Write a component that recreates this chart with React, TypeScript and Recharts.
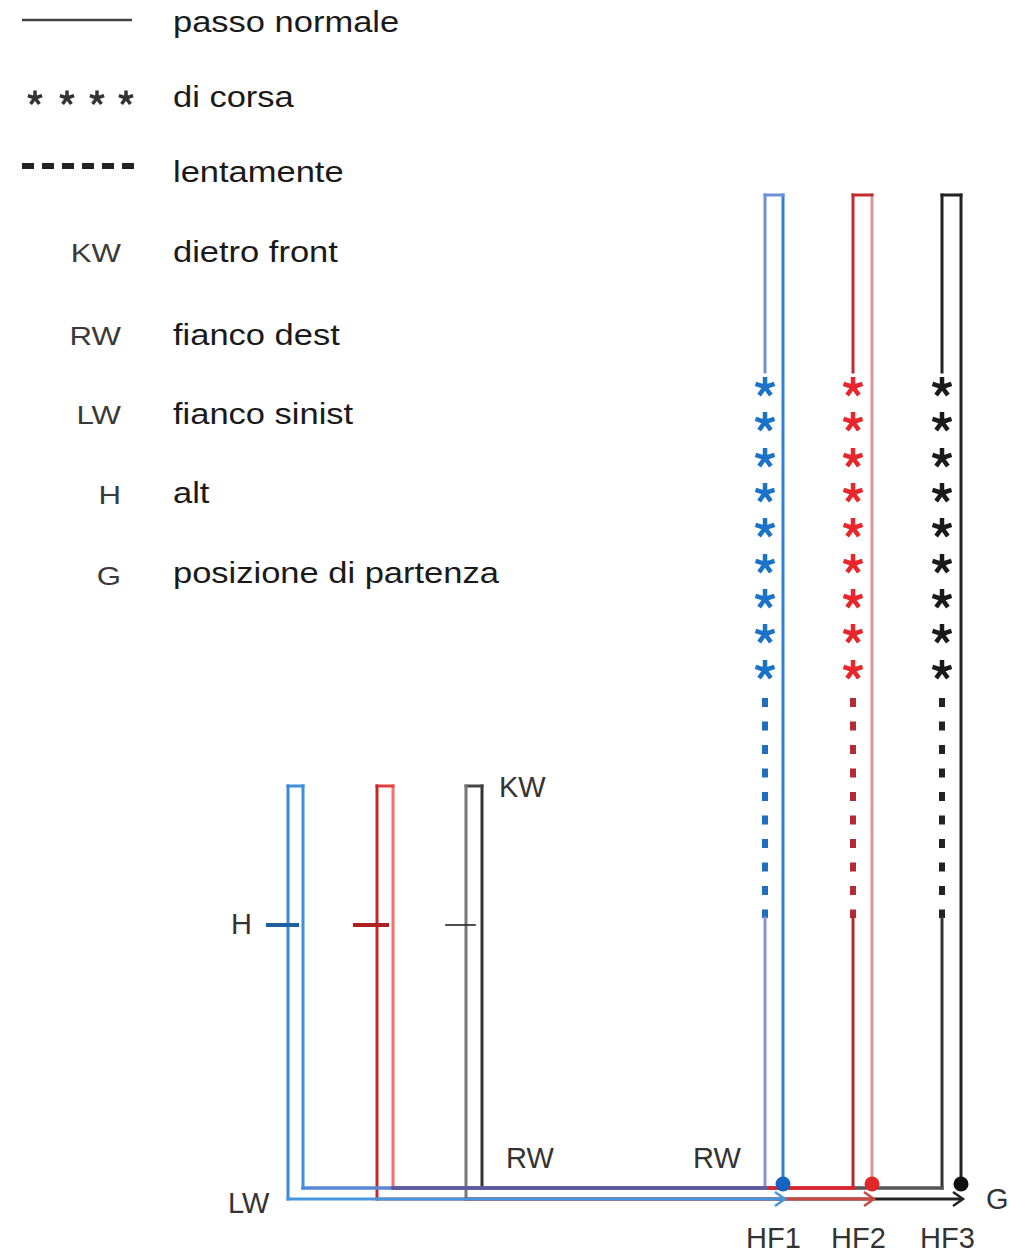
import React from "react";
import { ComposedChart, Line, Scatter, XAxis, YAxis } from "recharts";

const W = 1010;
const H = 1253;
const FONT = "'Liberation Sans', Arial, Helvetica, sans-serif";

// legend
const legendTexts = [
  "passo normale",
  "di corsa",
  "lentamente",
  "dietro front",
  "fianco dest",
  "fianco sinist",
  "alt",
  "posizione di partenza",
];
const legendTextY = [32, 107, 182, 262, 345, 424, 503, 583];
const legendCodes = ["KW", "RW", "LW", "H", "G"];
const legendCodeY = [262, 345, 424, 504, 585];
const legendSolidX = [22, 132];
const legendSolidY = 20;
const legendStarX = [35, 67, 97, 126];
const legendStarY = 98;
const legendDashX = [22, 135];
const legendDashY = 166;

// the three routes (HF1 blue, HF2 red, HF3 black)
const leftOuterX = [288, 377, 466];
const leftInnerX = [303, 393, 482];
const rightInnerX = [765, 853, 942];
const rightOuterX = [783, 872, 961];
const haltTickX = [
  [268, 297],
  [355, 387],
  [446, 475],
];
const runY = [387, 422, 458, 493, 528, 564, 599, 634, 670];
const rightTopY = 195;
const leftTopY = 786;
const walkEndY = 372;
const slowTopY = 698;
const slowEndY = 918;
const innerBaseY = 1188;
const outerBaseY = 1199;
const haltY = 925;
const startY = 1184;
const overlapX = [393, 765];

const diagramLabels = ["KW", "H", "LW", "RW", "RW", "HF1", "HF2", "HF3", "G"];
const diagramLabelX = [499, 231, 228, 506, 693, 746, 831, 920, 986];
const diagramLabelY = [797, 934, 1213, 1168, 1168, 1248, 1248, 1248, 1209];

const palettes = [
  {
    outerRight: "#2f80d8",
    innerRight: "#6f8fd6",
    star: "#1a73c8",
    slow: "#1f6fc0",
    lower: "#8a90d4",
    innerBase: "#5a86d4",
    leftInner: "#3d8fe0",
    leftTop: "#3d8fe0",
    leftOuter: "#3a8ad8",
    outerBase: "#4596dc",
    dot: "#1565c0",
    halt: "#1f5fa0",
    haltW: 4,
  },
  {
    outerRight: "#d49a9a",
    innerRight: "#c22a30",
    star: "#e8262c",
    slow: "#b52a35",
    lower: "#b02a30",
    innerBase: "#e0202a",
    leftInner: "#ff6a6a",
    leftTop: "#e04040",
    leftOuter: "#c0282e",
    outerBase: "#c84a40",
    dot: "#e02828",
    halt: "#b02020",
    haltW: 4,
  },
  {
    outerRight: "#222222",
    innerRight: "#222222",
    star: "#1a1a1a",
    slow: "#222222",
    lower: "#333333",
    innerBase: "#555555",
    leftInner: "#333333",
    leftTop: "#444444",
    leftOuter: "#777777",
    outerBase: "#222222",
    dot: "#111111",
    halt: "#222222",
    haltW: 1.6,
  },
];

const pts = (arr: number[][]) => arr.map(([x, y]) => ({ x, y }));

type Seg = { key: string; data: { x: number; y: number }[]; color: string; width: number; dash?: string };

function buildSegments(): Seg[] {
  const segs: Seg[] = [];
  // draw black first, blue last
  [2, 1, 0].forEach((i) => {
    const p = palettes[i];
    const lo = leftOuterX[i];
    const li = leftInnerX[i];
    const ri = rightInnerX[i];
    const ro = rightOuterX[i];
    segs.push({ key: `or${i}`, data: pts([[ro, startY], [ro, rightTopY]]), color: p.outerRight, width: 3 });
    segs.push({ key: `rt${i}`, data: pts([[ro, rightTopY], [ri, rightTopY]]), color: p.innerRight, width: 3 });
    segs.push({ key: `ir${i}`, data: pts([[ri, rightTopY], [ri, walkEndY]]), color: p.innerRight, width: 3 });
    segs.push({ key: `sl${i}`, data: pts([[ri, slowTopY], [ri, slowEndY]]), color: p.slow, width: 6, dash: "9 14.5" });
    segs.push({ key: `lw${i}`, data: pts([[ri, slowEndY], [ri, innerBaseY]]), color: p.lower, width: 3 });
    segs.push({ key: `ib${i}`, data: pts([[ri, innerBaseY], [li, innerBaseY]]), color: p.innerBase, width: 3.5 });
    segs.push({ key: `li${i}`, data: pts([[li, innerBaseY], [li, leftTopY]]), color: p.leftInner, width: 3 });
    segs.push({ key: `lt${i}`, data: pts([[li, leftTopY], [lo, leftTopY]]), color: p.leftTop, width: 3 });
    segs.push({ key: `lo${i}`, data: pts([[lo, leftTopY], [lo, outerBaseY]]), color: p.leftOuter, width: 3 });
    segs.push({ key: `ob${i}`, data: pts([[lo, outerBaseY], [ro, outerBaseY]]), color: p.outerBase, width: 3 });
    segs.push({
      key: `h${i}`,
      data: pts([[haltTickX[i][0], haltY], [haltTickX[i][1], haltY]]),
      color: p.halt,
      width: p.haltW,
    });
  });
  segs.push({
    key: "overlap",
    data: pts([[overlapX[0], innerBaseY], [overlapX[1], innerBaseY]]),
    color: "#5a5a9c",
    width: 3.5,
  });
  return segs;
}

function Asterisk(props: any) {
  const { cx, cy, fill } = props;
  const r = props.arm ?? 10;
  const sw = props.sw ?? 4.5;
  const d = [-90, -18, 54, 126, 198]
    .map((a) => {
      const t = (a * Math.PI) / 180;
      return `M${cx},${cy}L${cx + r * Math.cos(t)},${cy + r * Math.sin(t)}`;
    })
    .join("");
  return <path d={d} stroke={fill} strokeWidth={sw} strokeLinecap="butt" fill="none" />;
}

function Dot(props: any) {
  const { cx, cy, fill } = props;
  return <circle cx={cx} cy={cy} r={7.5} fill={fill} />;
}

function Arrow(props: any) {
  const { cx, cy, fill } = props;
  return (
    <path
      d={`M${cx - 10},${cy - 7}L${cx},${cy}L${cx - 10},${cy + 7}`}
      stroke={fill}
      strokeWidth={2.5}
      fill="none"
    />
  );
}

function makeText(size: number, anchor: string, sx: number, color: string) {
  return (props: any) => {
    const { cx, cy, payload } = props;
    return (
      <g transform={`translate(${cx},${cy}) scale(${sx},1)`}>
        <text x={0} y={0} textAnchor={anchor} fontSize={size} fontFamily={FONT} fill={color}>
          {payload.text}
        </text>
      </g>
    );
  };
}

const LegendText = makeText(30, "start", 1.15, "#1a1a1a");
const LegendCode = makeText(26, "end", 1.2, "#3a3a3a");
const DiagramText = makeText(29, "start", 1, "#333333");

export default function App() {
  const segments = buildSegments();
  const legendTextData = legendTexts.map((text, i) => ({ x: 173, y: legendTextY[i], text }));
  const legendCodeData = legendCodes.map((text, i) => ({ x: 121, y: legendCodeY[i], text }));
  const diagramData = diagramLabels.map((text, i) => ({ x: diagramLabelX[i], y: diagramLabelY[i], text }));

  return (
    <div style={{ position: "absolute", left: 0, top: 0, width: W, height: H, background: "#fff" }}>
      <ComposedChart width={W} height={H} margin={{ top: 0, right: 0, bottom: 0, left: 0 }}>
        <XAxis type="number" dataKey="x" domain={[0, W]} allowDataOverflow hide />
        <YAxis type="number" dataKey="y" domain={[0, H]} allowDataOverflow reversed hide />

        {/* legend samples */}
        <Line
          data={pts([[legendSolidX[0], legendSolidY], [legendSolidX[1], legendSolidY]])}
          dataKey="y"
          type="linear"
          stroke="#444"
          strokeWidth={2.5}
          dot={false}
          activeDot={false}
          isAnimationActive={false}
        />
        <Line
          data={pts([[legendDashX[0], legendDashY], [legendDashX[1], legendDashY]])}
          dataKey="y"
          type="linear"
          stroke="#222"
          strokeWidth={6}
          strokeDasharray="12 8"
          dot={false}
          activeDot={false}
          isAnimationActive={false}
        />
        <Scatter
          data={legendStarX.map((x) => ({ x, y: legendStarY }))}
          dataKey="y"
          fill="#333"
          shape={(p: any) => <Asterisk {...p} arm={7.5} sw={3.5} />}
          isAnimationActive={false}
        />

        {/* route segments */}
        {segments.map((s) => (
          <Line
            key={s.key}
            data={s.data}
            dataKey="y"
            type="linear"
            stroke={s.color}
            strokeWidth={s.width}
            strokeDasharray={s.dash}
            strokeLinecap={s.dash ? "butt" : "square"}
            dot={false}
            activeDot={false}
            isAnimationActive={false}
          />
        ))}

        {/* running stars, start dots, arrows */}
        {[0, 1, 2].map((i) => (
          <Scatter
            key={`stars${i}`}
            data={runY.map((y) => ({ x: rightInnerX[i], y }))}
            dataKey="y"
            fill={palettes[i].star}
            shape={(p: any) => <Asterisk {...p} />}
            isAnimationActive={false}
          />
        ))}
        {[0, 1, 2].map((i) => (
          <Scatter
            key={`dot${i}`}
            data={[{ x: rightOuterX[i], y: startY }]}
            dataKey="y"
            fill={palettes[i].dot}
            shape={Dot}
            isAnimationActive={false}
          />
        ))}
        {[0, 1, 2].map((i) => (
          <Scatter
            key={`arrow${i}`}
            data={[{ x: rightOuterX[i] + 2, y: outerBaseY }]}
            dataKey="y"
            fill={palettes[i].outerBase}
            shape={Arrow}
            isAnimationActive={false}
          />
        ))}

        {/* texts */}
        <Scatter data={legendTextData} dataKey="y" shape={LegendText} isAnimationActive={false} />
        <Scatter data={legendCodeData} dataKey="y" shape={LegendCode} isAnimationActive={false} />
        <Scatter data={diagramData} dataKey="y" shape={DiagramText} isAnimationActive={false} />
      </ComposedChart>
    </div>
  );
}
